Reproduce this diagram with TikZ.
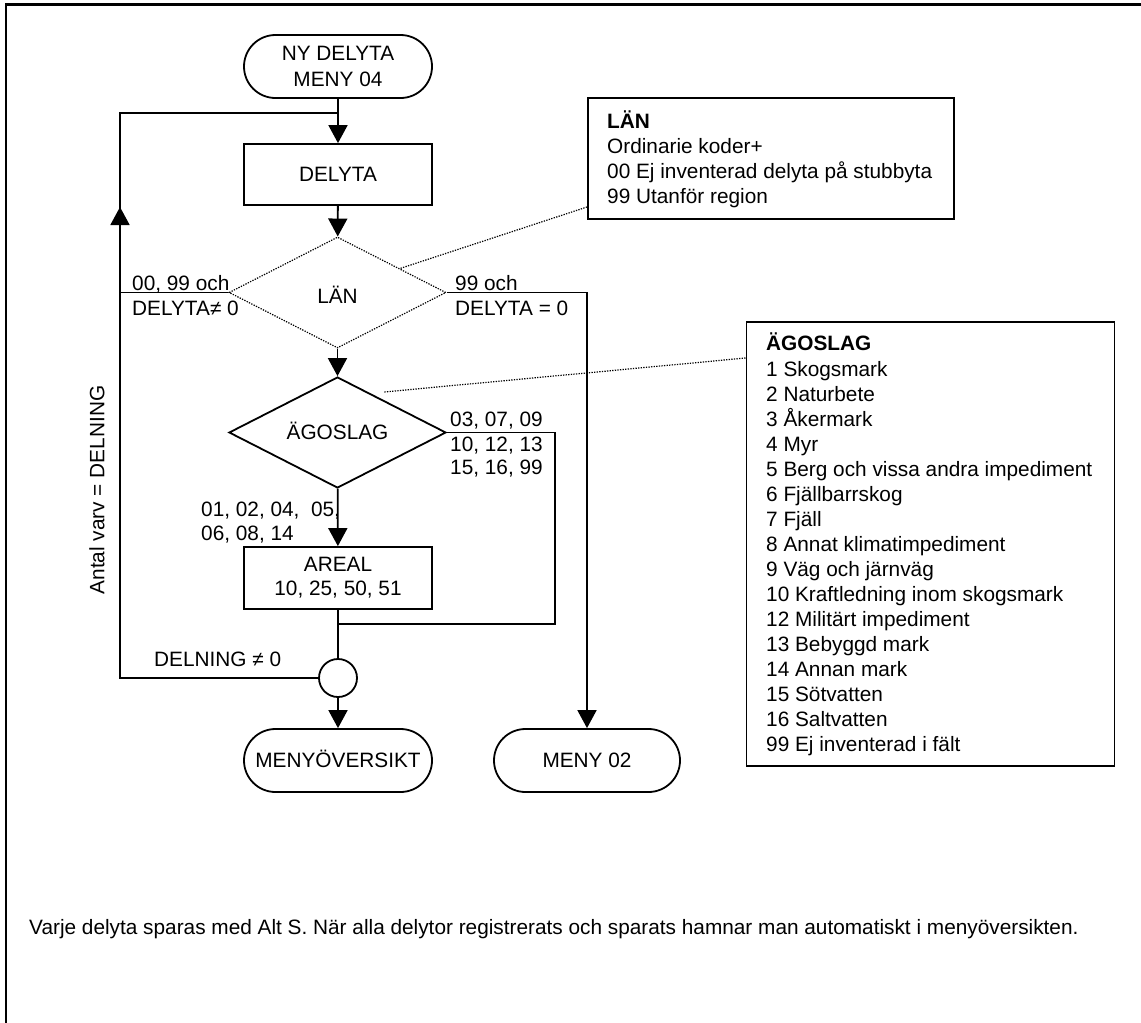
\documentclass[tikz,border=0pt]{standalone}
\usepackage{fontspec}
\setmainfont{Liberation Sans}
\usetikzlibrary{shapes.geometric,arrows.meta}
\newcommand\diafs{\fontsize{20.8pt}{25pt}\selectfont}
\begin{document}
\begin{tikzpicture}[x=1pt,y=-1pt,
  every node/.style={font=\diafs, inner sep=0pt},
  ln/.style={line width=1.8pt},
  arr/.style={ln, -{Triangle[width=19pt,length=18pt]}},
  captxt/.style={text height=14.9pt, text depth=0pt},
  term/.style={draw, ln, rounded corners=31.5pt, minimum height=63pt, align=center},
  procbox/.style={draw, ln, minimum width=188pt, align=center},
  dia/.style={draw, diamond, shape aspect=2, minimum width=217pt, minimum height=111pt, captxt},
  dotline/.style={line width=1.2pt, dash pattern=on 1.3pt off 1.3pt},
  infobox/.style={draw, ln, anchor=north west},
  lbl/.style={captxt, anchor=west}
]
\useasboundingbox (0,0) rectangle (1141,1023);
% frame
\coordinate (fbl) at (6,1030);
\coordinate (ftl) at (6,4.5);
\coordinate (ftr) at (1145,4.5);
\draw[line width=2.3pt] (fbl) -- (ftl) -- (ftr);

% flowchart nodes
\node[term, minimum width=188pt] (start) at (338,66.5) {NY DELYTA\\[1pt]MENY 04};
\node[procbox, minimum height=61pt, captxt] (delyta) at (338,174.5) {DELYTA};
\node[dia, dotline] (lan) at (337.5,292.5) {\raisebox{-4pt}{LÄN}};
\node[dia, ln] (ago) at (337.5,432.5) {ÄGOSLAG};
\node[procbox, minimum height=62pt] (areal) at (338,578) {AREAL\\[-0.8pt]10, 25, 50, 51};
\node[draw, ln, circle, minimum size=38pt] (circ) at (338,678) {};
\node[term, minimum width=188pt, captxt] (menyov) at (338,760.5) {MENYÖVERSIKT};
\node[term, minimum width=186pt, captxt] (meny02) at (587,760.5) {MENY 02};

% connectors
\draw[arr] (start) -- (delyta);
\draw[arr] (delyta) -- (lan);
\draw[arr] (lan) -- (ago);
\draw[arr] (ago) -- (areal);
\draw[ln] (areal) -- (circ);
\draw[arr] (circ) -- (menyov);
\draw[arr] (lan.east) -| (meny02.north);

\coordinate (agr) at (555,432.5);
\coordinate (join) at (338,624);
\draw[ln] (ago.east) -- (agr) |- (join);

\coordinate (lbot) at (120,678);
\coordinate (ltop) at (120,113);
\coordinate (ljoin) at (338,113);
\coordinate (lmid) at (120,292.5);
\coordinate (larrs) at (120,260);
\coordinate (larre) at (120,207);
\draw[ln] (circ.west) -- (lbot) -- (ltop) -- (ljoin);
\draw[ln] (lan.west) -- (lmid);
\draw[arr] (larrs) -- (larre);

% branch labels
\node[lbl] (l1) at (132,283) {00, 99 och};
\node[lbl] (l2) at (132,308) {DELYTA≠ 0};
\node[lbl] (l3) at (455,283) {99 och};
\node[lbl] (l4) at (455,308) {DELYTA = 0};
\node[lbl] (l5) at (450,419) {03, 07, 09};
\node[lbl] (l6) at (450,444) {10, 12, 13};
\node[lbl] (l7) at (450,467.5) {15, 16, 99};
\node[lbl] (l8) at (201,509) {01, 02, 04,\ \ 05,};
\node[lbl] (l9) at (201,533) {06, 08, 14};
\node[lbl] (l10) at (154,659) {DELNING ≠ 0};
\node[captxt, rotate=90] (l11) at (97,490) {Antal varv = DELNING};

% LÄN info box
\node[infobox, minimum width=366pt, minimum height=121pt] (lanbox) at (587,97) {};
\node[lbl] (lan1) at (607,121) {\bfseries LÄN};
\node[lbl] (lan2) at (607,146.5) {Ordinarie koder+};
\node[lbl] (lan3) at (607,171.5) {00 Ej inventerad delyta på stubbyta};
\node[lbl] (lan4) at (607,196) {99 Utanför region};

% ÄGOSLAG info box
\node[infobox, minimum width=368pt, minimum height=444pt] (agobox) at (745.5,321) {};
\node[lbl] (agoh) at (766,343.3) {\bfseries ÄGOSLAG};
\foreach \t [count=\i from 0] in {1 Skogsmark, 2 Naturbete, 3 Åkermark, 4 Myr,
  5 Berg och vissa andra impediment, 6 Fjällbarrskog, 7 Fjäll,
  8 Annat klimatimpediment, 9 Väg och järnväg, 10 Kraftledning inom skogsmark,
  12 Militärt impediment, 13 Bebyggd mark, 14 Annan mark, 15 Sötvatten,
  16 Saltvatten, 99 Ej inventerad i fält}
  \node[lbl] (ag\i) at (766,{369.3+24.95*\i}) {\t};

% dotted leader lines
\coordinate (d1a) at (587,207);
\coordinate (d1b) at (400,268.5);
\coordinate (d2a) at (745.5,358);
\coordinate (d2b) at (384,392);
\draw[dotline] (d1a) -- (d1b);
\draw[dotline] (d2a) -- (d2b);

% footer text
\node[lbl] (foot) at (29,927) {Varje delyta sparas med Alt S. När alla delytor registrerats och sparats hamnar man automatiskt i menyöversikten.};
\end{tikzpicture}
\end{document}
